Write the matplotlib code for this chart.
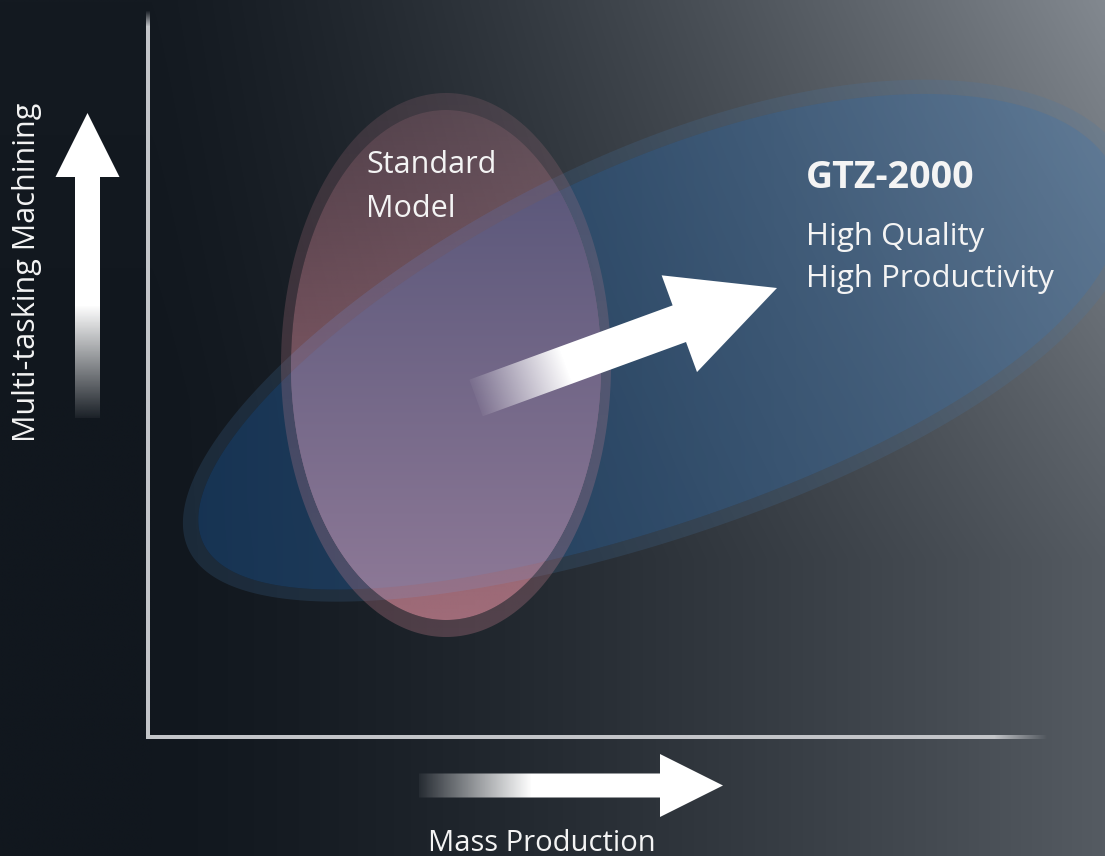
import numpy as np
import matplotlib
matplotlib.use("Agg")
import matplotlib.pyplot as plt
from matplotlib.path import Path
from matplotlib.patches import PathPatch

# ---------------- content ----------------
x_axis_label = "Mass Production"
y_axis_label = "Multi-tasking Machining"
standard_lines = ["Standard", "Model"]
product_title = "GTZ-2000"
product_features = ["High Quality", "High Productivity"]

# ---------------- layout / style ----------------
W, H = 1105, 856
FONT = ["Open Sans", "DejaVu Sans"]
TXT = "#f4f4f4"

fig = plt.figure(figsize=(W / 100, H / 100), dpi=100)
ax = fig.add_axes([0, 0, 1, 1])
ax.axis("off")


def shape_pts(cx, cy, a, b, ang=0.0, bend=0.0, egg=0.0, n=900):
    t = np.linspace(0, 2 * np.pi, n, endpoint=False)
    phi = np.radians(ang)
    u = np.array([np.cos(phi), -np.sin(phi)])
    v = np.array([-np.sin(phi), -np.cos(phi)])
    s = a * np.cos(t)
    r = (b * np.sin(t) + bend * np.sin(t) ** 2) * (1 + egg * np.cos(t))
    return np.column_stack([cx + s * u[0] + r * v[0], cy + s * u[1] + r * v[1]])


def closed(pts):
    return Path(np.vstack([pts, pts[:1]]), closed=True)


def ring(outer, inner):
    return Path.make_compound_path(closed(outer), closed(inner[::-1]))


def intersect(A, B):
    pa, pb = closed(A), closed(B)
    P = np.vstack([A[pb.contains_points(A)], B[pa.contains_points(B)]])
    c = P.mean(0)
    order = np.argsort(np.arctan2(P[:, 1] - c[1], P[:, 0] - c[0]))
    return P[order]


def grad_img(rgba, x0, x1, y0, y1, clip, z):
    im = ax.imshow(rgba, extent=(x0, x1, y1, y0), origin="upper",
                   interpolation="bilinear", zorder=z)
    if clip is not None:
        im.set_clip_path(clip, transform=ax.transData)
    return im


def grid(x0, x1, y0, y1, step=2.0):
    xs = np.arange(x0, x1 + step, step)
    ys = np.arange(y0, y1 + step, step)
    return np.meshgrid(xs, ys), xs[0], xs[-1], ys[0], ys[-1]


# ---------------- background ----------------
(X, Y), *_ = grid(0, W, 0, H, 5.0)
t = np.clip((X - 150) / 955, 0, 1)
v = (17 + 3 * np.clip(1 - Y / 400, 0, 1) + 68 * t ** 1.4
     + 42 * t ** 1.2 * np.clip(1 - Y / 560, 0, 1))
bg = np.stack([v, v + 6, v + 13], -1) / 255
grad_img(np.clip(bg, 0, 1), 0, X.max(), 0, Y.max(), None, 0)

# ---------------- regions ----------------
blue_out = shape_pts(659, 358, 508, 193, 21.76, 15, 0.12)
blue_in = shape_pts(659, 358, 492, 179, 21.76, 15, 0.12)
pink_out = shape_pts(446, 365, 165, 272)
pink_in = shape_pts(446, 365, 155, 255)

# blue halo + fill
ax.add_patch(PathPatch(ring(blue_out, blue_in), facecolor=(70/255, 120/255, 170/255),
                       alpha=0.2, edgecolor="none", zorder=1))
(X, Y), gx0, gx1, gy0, gy1 = grid(150, 1105, 40, 640)
f = np.clip((X - 180) / 925, 0, 1)
col = np.stack([28 + 42 * f, 82 + 36 * f, 140 + 28 * f], -1) / 255
blue_rgba = np.dstack([col, np.full(X.shape, 0.48)])
grad_img(blue_rgba, gx0, gx1, gy0, gy1, closed(blue_in), 2)

# pink halo + fill
(X, Y), gx0, gx1, gy0, gy1 = grid(270, 620, 85, 645)
pc = np.ones(X.shape)
pink_col = np.stack([pc * 200, pc * 130, pc * 145], -1) / 255
halo_a = np.interp(Y, [93, 637], [0.17, 0.3])
grad_img(np.dstack([pink_col, halo_a]), gx0, gx1, gy0, gy1, ring(pink_out, pink_in), 3)
fill_a = np.interp(Y, [110, 620], [0.31, 0.77])
grad_img(np.dstack([pink_col, fill_a]), gx0, gx1, gy0, gy1, closed(pink_in), 4)

# overlap (lighter lavender)
lav = np.stack([np.interp(Y, [170, 590], [90, 140]),
                np.interp(Y, [170, 590], [87, 120]),
                np.interp(Y, [170, 590], [122, 150])], -1) / 255
grad_img(np.dstack([lav, np.full(X.shape, 0.5)]), gx0, gx1, gy0, gy1,
         closed(intersect(pink_in, blue_out)), 5)
grad_img(np.dstack([lav, np.full(X.shape, 1.0)]), gx0, gx1, gy0, gy1,
         closed(intersect(pink_in, blue_in)), 6)

# ---------------- axis lines ----------------
LINE = np.array([195, 197, 201]) / 255
ys = np.arange(10, 740, 1.0)
va = np.interp(ys, [10, 26], [0.0, 1.0])
vline = np.dstack([np.tile(LINE, (len(ys), 1))[:, None, :], va[:, None, None]])
grad_img(vline, 146, 150, 10, 739, None, 7)
xs = np.arange(146, 1049, 1.0)
ha_ = np.interp(xs, [995, 1048], [1.0, 0.0])
hline = np.dstack([np.tile(LINE, (len(xs), 1))[None, :, :], ha_[None, :, None]])
grad_img(hline, 146, 1048, 735, 739, None, 7)


# ---------------- arrows ----------------
def arrow(tail, tip, sw, hw, hl, fade, a0=0.05, z=8):
    tail, tip = np.asarray(tail, float), np.asarray(tip, float)
    d = tip - tail
    L = np.hypot(*d)
    u = d / L
    n = np.array([-u[1], u[0]])
    hb = tip - u * hl
    poly = np.array([tail + n * sw / 2, hb + n * sw / 2, hb + n * hw / 2, tip,
                     hb - n * hw / 2, hb - n * sw / 2, tail - n * sw / 2])
    x0, y0 = poly.min(0) - 2
    x1, y1 = poly.max(0) + 2
    (XX, YY), gx0, gx1, gy0, gy1 = grid(x0, x1, y0, y1, 1.0)
    s = (XX - tail[0]) * u[0] + (YY - tail[1]) * u[1]
    alpha = a0 + (1 - a0) * np.clip(s / fade, 0, 1)
    rgba = np.dstack([np.ones(XX.shape + (3,)), alpha])
    grad_img(rgba, gx0, gx1, gy0, gy1, closed(poly), z)


arrow((87.5, 418), (87.5, 113), 25, 64, 64, 112)
arrow((419, 785.5), (723, 785.5), 24, 63, 63, 112)
arrow((476, 398), (777, 288), 39, 103, 104, 95)

# ---------------- texts ----------------
ax.text(27, 272, y_axis_label, rotation=90, ha="center", va="center",
        fontsize=22, color=TXT, family=FONT, zorder=10)
ax.text(428, 851, x_axis_label, ha="left", va="baseline",
        fontsize=21, color=TXT, family=FONT, zorder=10)
for line, yb in zip(standard_lines, [173, 217]):
    ax.text(366, yb, line, ha="left", va="baseline", fontsize=22,
            color=TXT, family=FONT, zorder=10)
ax.text(806, 188, product_title, ha="left", va="baseline", fontsize=27,
        fontweight="bold", color=TXT, family=FONT, zorder=10)
for line, yb in zip(product_features, [245, 287]):
    ax.text(806, yb, line, ha="left", va="baseline", fontsize=22.5,
            color=TXT, family=FONT, zorder=10)

ax.set_xlim(0, W)
ax.set_ylim(H, 0)
ax.set_aspect("auto")
fig.savefig("out.png", dpi=100)
